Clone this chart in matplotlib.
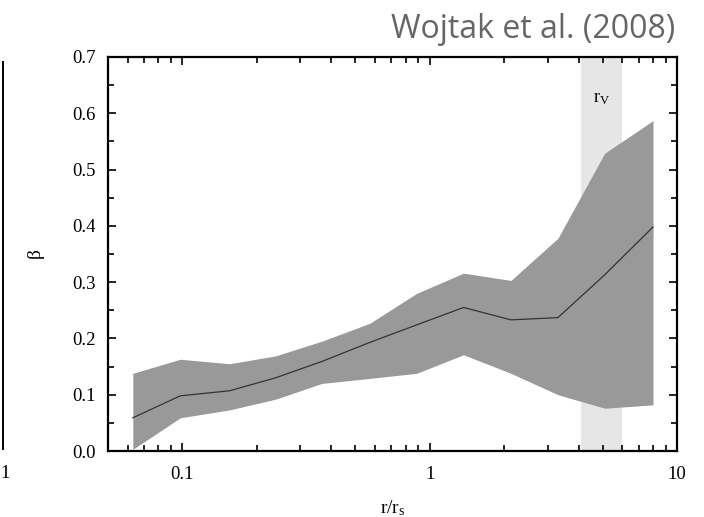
import numpy as np
import matplotlib
matplotlib.use("Agg")
import matplotlib.pyplot as plt
from matplotlib.lines import Line2D
from matplotlib.ticker import FixedLocator, MultipleLocator, LogLocator, NullFormatter

# anisotropy profile beta(r/r_s): median and spread
r = [0.063, 0.098, 0.155, 0.238, 0.366, 0.573, 0.885, 1.37, 2.13, 3.3, 5.1, 8.0]
beta_mid = [0.059, 0.098, 0.107, 0.130, 0.159, 0.193, 0.224, 0.255, 0.233, 0.237, 0.313, 0.398]
beta_hi = [0.138, 0.163, 0.155, 0.169, 0.195, 0.227, 0.280, 0.316, 0.303, 0.378, 0.529, 0.587]
beta_lo = [0.003, 0.059, 0.073, 0.092, 0.120, 0.129, 0.138, 0.171, 0.138, 0.100, 0.076, 0.082]

# virial radius range
rv_lo, rv_hi = 4.1, 6.0

plt.rcParams['font.family'] = ['Liberation Serif', 'DejaVu Serif']

fig = plt.figure(figsize=(7.04, 5.17), dpi=100)
ax = fig.add_axes([108 / 704, 1 - 451 / 517, 569 / 704, 394 / 517])

ax.axvspan(rv_lo, rv_hi, color='#e6e6e6', lw=0, zorder=0)
ax.fill_between(r, beta_lo, beta_hi, color='#999999', lw=0, zorder=1)
ax.plot(r, beta_mid, color='#333333', lw=0.9, zorder=2)
ax.text(np.sqrt(rv_lo * rv_hi), 0.627, r'$\mathregular{r_V}$', ha='center', va='center',
        fontsize=13)

ax.set_xscale('log')
ax.set_xlim(0.05, 10)
ax.set_ylim(0, 0.7)
ax.xaxis.set_major_locator(FixedLocator([0.1, 1, 10]))
ax.set_xticklabels(['0.1', '1', '10'])
ax.xaxis.set_minor_locator(LogLocator(base=10, subs=np.arange(2, 10)))
ax.xaxis.set_minor_formatter(NullFormatter())
ax.yaxis.set_major_locator(MultipleLocator(0.1))
ax.yaxis.set_minor_locator(MultipleLocator(0.05))
ax.yaxis.set_major_formatter(matplotlib.ticker.FormatStrFormatter('%.1f'))

ax.tick_params(which='both', direction='in', top=True, right=True, width=1.2,
               labelsize=13.5)
ax.tick_params(axis='y', pad=9)
ax.tick_params(axis='x', pad=11)
ax.tick_params(which='major', length=6)
ax.tick_params(which='minor', length=4)
for s in ax.spines.values():
    s.set_linewidth(1.6)

ax.set_ylabel(r'$\mathregular{\beta}$', fontsize=14)
ax.set_xlabel(r'$\mathregular{r/r_s}$', fontsize=14)
ax.yaxis.set_label_coords(-0.107, 0.5)
ax.xaxis.set_label_coords(0.5, -0.12)

fig.text(675 / 704, 1 - 38 / 517, 'Wojtak et al. (2008)', ha='right', va='baseline',
         family='Open Sans', fontsize=23, color='#666666')

# edge of the neighbouring panel
fig.add_artist(Line2D([3 / 704, 3 / 704], [1 - 449 / 517, 1 - 62 / 517], color='black', lw=1.4))
fig.text(0, 1 - 474 / 517, '1', ha='left', va='center', fontsize=13.5)

fig.savefig('out.png', dpi=100)
